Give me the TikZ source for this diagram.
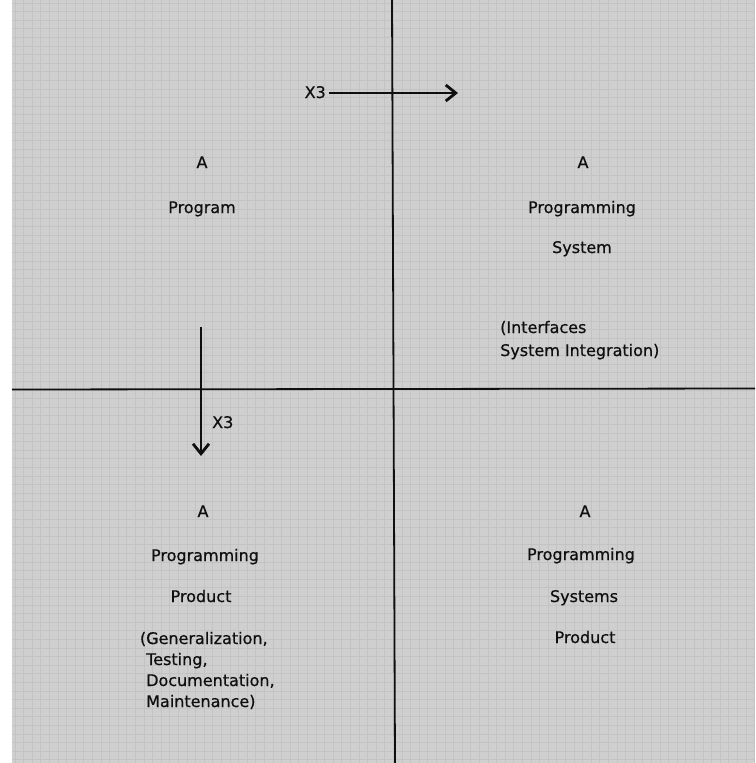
\documentclass[tikz,border=0pt]{standalone}
\usepackage{fontspec}
\setmainfont{DejaVu Sans}
\newfontfamily\labelfont{DejaVu Sans}[FakeBold=0.6]
\usetikzlibrary{arrows.meta}
\definecolor{paper}{gray}{0.81}
\definecolor{screen}{gray}{0.765}
\definecolor{ink}{gray}{0.06}
\tikzset{
  lbl/.style={font=\labelfont\fontsize{16}{20}\selectfont, text=ink, inner sep=0pt, anchor=base},
  note/.style={font=\labelfont\fontsize{16}{20}\selectfont, text=ink, inner sep=0pt, anchor=base west},
  divider/.style={line width=1.8pt, draw=ink},
  push/.style={line width=2.8pt, draw=ink, -{Straight Barb[length=10pt,width=16pt]}},
  screenline/.style={draw=screen, line width=0.7pt},
}
\begin{document}
\begin{tikzpicture}[x=1pt,y=-1pt]
  \useasboundingbox (0,0) rectangle (755,763);
  % paper and halftone screen
  \fill[white] (0,0) rectangle (755,763);
  \fill[paper] (12,0) rectangle (755,763);
  \foreach \i in {0,...,86} \draw[screenline] ({15+\i*8.6},0) -- ++(0,763);
  \foreach \j in {0,...,88} \draw[screenline] (12,{3+\j*8.6}) -- (755,{3+\j*8.6});

  % quadrant dividers
  \coordinate (vtop) at (392,0);
  \coordinate (vbot) at (395,763);
  \coordinate (hleft) at (12,389.5);
  \coordinate (hright) at (755,388.5);
  \draw[divider] (vtop) -- (vbot);
  \draw[divider] (hleft) -- (hright);

  % growth arrows
  \coordinate (hstart) at (329,93);
  \coordinate (hend) at (458,93);
  \draw[push] (hstart) -- (hend);
  \node[lbl, anchor=base east] (xright) at (326,98) {X3};

  \coordinate (vstart) at (201,327);
  \coordinate (vend) at (201,456);
  \draw[push] (vstart) -- (vend);
  \node[lbl, anchor=base west] (xdown) at (212,428) {X3};

  % top left
  \node[lbl] (p1) at (202,168) {A};
  \node[lbl] (p2) at (202,213) {Program};

  % top right
  \node[lbl] (s1) at (583,168) {A};
  \node[lbl] (s2) at (582,213) {Programming};
  \node[lbl] (s3) at (582,253) {System};
  \node[note] (s4) at (500,333) {(Interfaces};
  \node[note] (s5) at (500,356) {System Integration)};

  % bottom left
  \node[lbl] (r1) at (203,517) {A};
  \node[lbl] (r2) at (205,561) {Programming};
  \node[lbl] (r3) at (201,602) {Product};
  \node[note] (r4) at (146,644) {\llap{(}Generalization,};
  \node[note] (r5) at (146,665) {Testing,};
  \node[note] (r6) at (146,686) {Documentation,};
  \node[note] (r7) at (146,707) {Maintenance)};

  % bottom right
  \node[lbl] (q1) at (585,517) {A};
  \node[lbl] (q2) at (581,560) {Programming};
  \node[lbl] (q3) at (584,602) {Systems};
  \node[lbl] (q4) at (585,643) {Product};
\end{tikzpicture}
\end{document}
